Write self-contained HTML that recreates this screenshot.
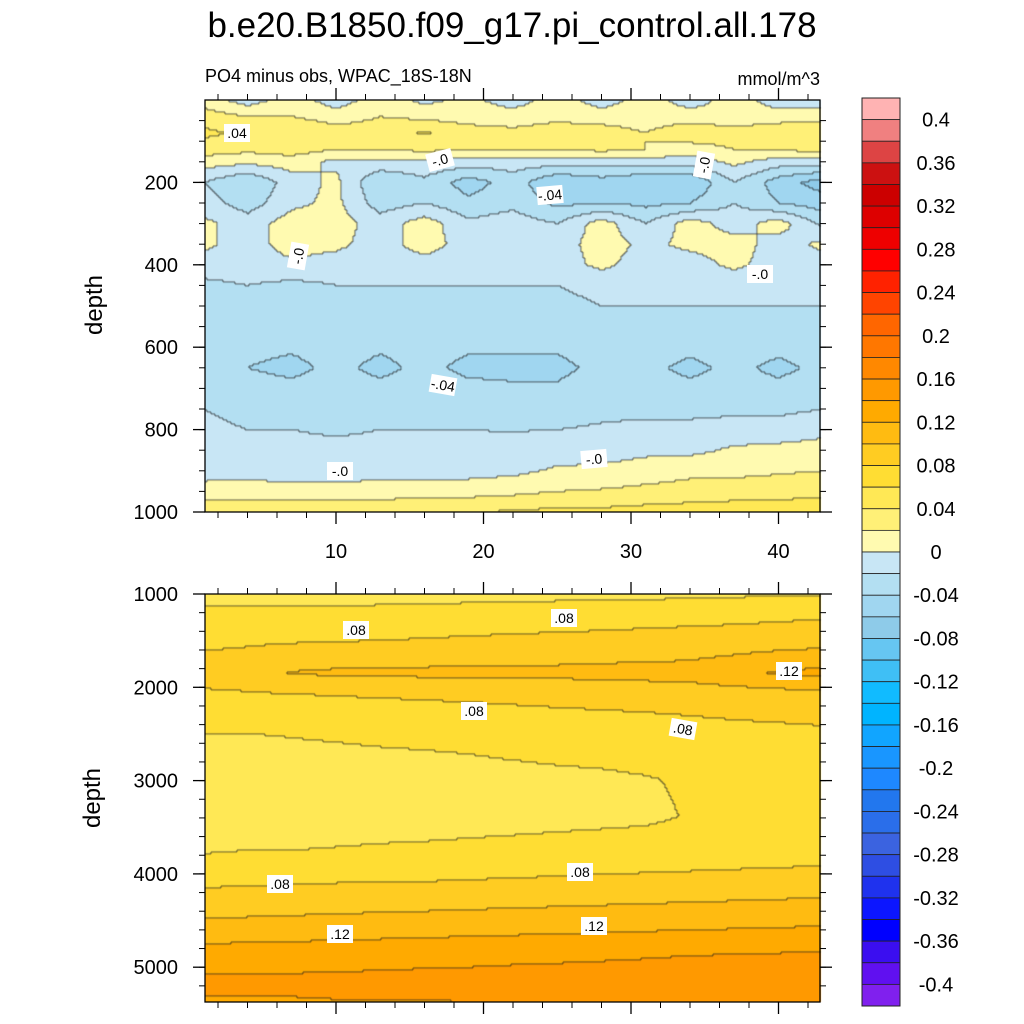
<!DOCTYPE html>
<html><head><meta charset="utf-8">
<style>
body{margin:0;background:#fff;width:1024px;height:1024px;position:relative;overflow:hidden;font-family:"Liberation Sans",sans-serif;}
canvas,svg{position:absolute;left:0;top:0;}
</style></head>
<body>
<canvas id="cv" width="1024" height="1024"></canvas>
<svg id="sv" width="1024" height="1024"></svg>
<script>
// ---- data ----
const levelColors = ["#ffb3b3","#f08080","#dd4444","#cc1111","#cc0000","#dd0000","#ee0000","#ff0000","#ff2200","#ff4400","#ff6600","#ff7700","#ff8800","#ff9900","#ffaa00","#ffbb11","#ffcc22","#ffdd33","#ffe855","#fff077","#fffab0",
"#c8e6f5","#b3dff2","#a0d6f0","#8ecbe9","#66c6f2","#3fbff5","#11bbff","#00b4ff","#11a5ff","#1996ff","#1e88ff","#2277ee","#2a6eea","#3b63e0","#2e4ee3","#1f32ee","#0c16ff","#0000ff","#3b0ef0","#6010f0","#8020ee"];
const cbLabels = ["0.4","0.36","0.32","0.28","0.24","0.2","0.16","0.12","0.08","0.04","0","-0.04","-0.08","-0.12","-0.16","-0.2","-0.24","-0.28","-0.32","-0.36","-0.4"];
const xCols = [1,4,7,10,13,16,19,22,25,28,31,34,37,40,43];
const xTicks = [10,20,30,40];
const topDepths = [0,40,80,120,150,200,250,300,350,400,450,550,650,750,850,900,950,1000];
const topVals = [
[0.01,-0.01,0.01,-0.01,0.01,-0.005,0.005,-0.01,0.01,-0.01,0.01,-0.01,0.01,-0.01,-0.01],
[0.03,0.02,0.02,0.01,0.02,0.015,0.01,0.01,0.015,0.01,0.01,0.01,0.005,0.01,0.01],
[0.045,0.035,0.04,0.03,0.03,0.042,0.03,0.025,0.03,0.03,0.02,0.035,0.03,0.035,0.04],
[0.03,0.025,0.03,0.02,0.02,0.025,0.02,0.02,0.02,0.025,0.02,0.01,0.02,0.02,0.03],
[0.01,0.005,0.01,-0.005,-0.005,-0.005,-0.01,-0.01,-0.01,-0.01,-0.01,-0.01,0.005,-0.01,-0.01],
[-0.02,-0.04,-0.01,0.005,-0.04,-0.025,-0.05,-0.03,-0.06,-0.05,-0.06,-0.06,-0.02,-0.05,-0.07],
[-0.01,-0.03,-0.005,0.005,-0.03,-0.02,-0.035,-0.025,-0.045,-0.04,-0.045,-0.04,-0.02,-0.04,-0.05],
[0.005,-0.01,0.01,0.01,-0.01,0.01,-0.015,-0.01,-0.02,0.01,-0.02,0.01,-0.01,0.01,-0.025],
[0.005,-0.01,0.01,0.005,-0.01,0.01,-0.01,-0.01,-0.01,0.01,-0.005,0.005,0.01,-0.01,0.005],
[-0.01,-0.01,-0.005,-0.01,-0.01,-0.01,-0.01,-0.01,-0.01,0.005,-0.01,-0.01,0.005,-0.01,-0.01],
[-0.025,-0.02,-0.025,-0.02,-0.02,-0.02,-0.02,-0.02,-0.02,-0.015,-0.015,-0.015,-0.015,-0.015,-0.015],
[-0.03,-0.03,-0.03,-0.03,-0.03,-0.03,-0.03,-0.03,-0.03,-0.025,-0.025,-0.025,-0.025,-0.025,-0.025],
[-0.035,-0.04,-0.045,-0.035,-0.045,-0.035,-0.045,-0.045,-0.045,-0.035,-0.035,-0.045,-0.035,-0.045,-0.035],
[-0.02,-0.025,-0.025,-0.03,-0.025,-0.025,-0.025,-0.03,-0.03,-0.025,-0.025,-0.025,-0.025,-0.025,-0.02],
[-0.012,-0.015,-0.015,-0.015,-0.015,-0.015,-0.015,-0.012,-0.01,-0.01,-0.005,-0.005,0.003,0.005,0.008],
[-0.008,-0.008,-0.01,-0.01,-0.008,-0.008,-0.008,-0.005,0.003,0.005,0.01,0.015,0.015,0.018,0.02],
[0.008,0.01,0.008,0.008,0.01,0.012,0.012,0.015,0.02,0.022,0.025,0.028,0.03,0.03,0.032],
[0.035,0.035,0.035,0.035,0.035,0.038,0.04,0.042,0.045,0.045,0.048,0.05,0.052,0.055,0.058]];
const botDepths = [1000,1200,1500,1850,2100,2500,3000,3400,3800,4100,4500,4900,5200,5400];
const botVals = [
[0.05,0.05,0.05,0.05,0.05,0.05,0.052,0.052,0.054,0.055,0.055,0.056,0.057,0.058,0.058],
[0.065,0.065,0.066,0.066,0.067,0.068,0.069,0.07,0.07,0.071,0.072,0.073,0.074,0.075,0.076],
[0.076,0.077,0.078,0.079,0.08,0.081,0.082,0.083,0.084,0.085,0.086,0.087,0.088,0.09,0.092],
[0.088,0.092,0.101,0.103,0.104,0.104,0.105,0.105,0.105,0.106,0.107,0.108,0.115,0.122,0.125],
[0.076,0.077,0.078,0.08,0.081,0.082,0.083,0.084,0.085,0.086,0.087,0.088,0.089,0.09,0.092],
[0.06,0.06,0.061,0.062,0.063,0.064,0.065,0.067,0.069,0.07,0.071,0.073,0.075,0.076,0.077],
[0.05,0.05,0.051,0.052,0.053,0.053,0.054,0.055,0.056,0.057,0.059,0.062,0.065,0.066,0.067],
[0.05,0.05,0.05,0.051,0.052,0.052,0.053,0.054,0.055,0.056,0.057,0.061,0.064,0.066,0.068],
[0.06,0.061,0.061,0.062,0.063,0.064,0.065,0.066,0.067,0.068,0.069,0.07,0.071,0.072,0.073],
[0.076,0.077,0.078,0.079,0.08,0.08,0.081,0.082,0.083,0.084,0.085,0.086,0.087,0.088,0.089],
[0.1,0.101,0.102,0.103,0.104,0.105,0.106,0.107,0.108,0.109,0.11,0.111,0.112,0.113,0.114],
[0.13,0.13,0.131,0.132,0.133,0.134,0.135,0.136,0.137,0.138,0.139,0.14,0.141,0.142,0.143],
[0.145,0.145,0.145,0.146,0.146,0.147,0.147,0.148,0.148,0.148,0.148,0.148,0.148,0.149,0.149],
[0.138,0.138,0.138,0.139,0.139,0.139,0.14,0.14,0.14,0.141,0.141,0.141,0.142,0.142,0.143]];

// ---- layout ----
const PL=205, PR=820;
const xPix = x => 188.5 + 14.75*x;
const topY = d => 100 + d*0.412;
const botY = d => 594 + (d-1000)*0.0933;
const TOP={y0:100,y1:512,yf:topY,depths:topDepths,vals:topVals,dmin:0,dmax:1000};
const BOT={y0:594,y1:1002,yf:botY,depths:botDepths,vals:botVals,dmin:1000,dmax:5400};
const levelIndex = v => { if(v>0.4) return 0; if(v<-0.4) return 41; return Math.min(41,Math.max(0,21-Math.ceil(v/0.02 - 1e-9))); };

function interp(P,x,d){
  let i=0; while(i<xCols.length-2 && x>xCols[i+1]) i++;
  let tx=(x-xCols[i])/(xCols[i+1]-xCols[i]); tx=Math.max(0,Math.min(1,tx));
  let j=0; while(j<P.depths.length-2 && d>P.depths[j+1]) j++;
  let ty=(d-P.depths[j])/(P.depths[j+1]-P.depths[j]); ty=Math.max(0,Math.min(1,ty));
  const a=P.vals[j][i],b=P.vals[j][i+1],c=P.vals[j+1][i],e=P.vals[j+1][i+1];
  return (a*(1-tx)+b*tx)*(1-ty)+(c*(1-tx)+e*tx)*ty;
}
const ctx=document.getElementById('cv').getContext('2d');
function drawField(P){
  const S=2, W=Math.ceil((PR-PL)/S), H=Math.ceil((P.y1-P.y0)/S);
  const lv=[];
  for(let r=0;r<H;r++){lv.push([]);
    const py=P.y0+r*S+S/2; const d=P.dmin+(py-P.y0)/(P.y1-P.y0)*(P.dmax-P.dmin);
    for(let c=0;c<W;c++){const px=PL+c*S+S/2; const x=(px-188.5)/14.75;
      const k=levelIndex(interp(P,x,d)); lv[r].push(k);
      ctx.fillStyle=levelColors[k]; ctx.fillRect(PL+c*S,P.y0+r*S,S,S);}}
  ctx.fillStyle="rgba(30,30,30,0.75)";
  for(let r=0;r<H;r++)for(let c=0;c<W;c++){
    if(c+1<W && lv[r][c]!==lv[r][c+1]) ctx.fillRect(PL+(c+1)*S-0.5,P.y0+r*S,0.9,S);
    if(r+1<H && lv[r][c]!==lv[r+1][c]) ctx.fillRect(PL+c*S,P.y0+(r+1)*S-0.5,S,0.9);}
}
drawField(TOP); drawField(BOT);

// ---- svg overlay ----
const NS="http://www.w3.org/2000/svg", sv=document.getElementById('sv');
function mk(tag,attrs,parent){const e=document.createElementNS(NS,tag);for(const k in attrs)e.setAttribute(k,attrs[k]);(parent||sv).appendChild(e);return e;}
function txt(s,x,y,size,anchor,name,extra){const t=mk('text',Object.assign({x:x,y:y,'font-size':size,'text-anchor':anchor||'middle','font-family':'Liberation Sans, sans-serif',fill:'#000'},extra||{}));t.textContent=s;


return t;}

txt("b.e20.B1850.f09_g17.pi_control.all.178",512,37,35,'middle','chart-title');
txt("PO4 minus obs, WPAC_18S-18N",205,82,18,'start','subtitle-left');
txt("mmol/m^3",820,85,18,'end','units-label');

function panel(P,ticksD,labelsD,name,xlabels){
  const g=mk('g',{});
  
  
  mk('rect',{x:PL,y:P.y0,width:PR-PL,height:P.y1-P.y0,fill:'none',stroke:'#000','stroke-width':1.3},g);
  ticksD.forEach(d=>{const y=P.yf(d); if(y<P.y0-0.5||y>P.y1+0.5)return;
    mk('line',{x1:PL-6,x2:PL,y1:y,y2:y,stroke:'#000','stroke-width':1},g);
    mk('line',{x1:PR,x2:PR+6,y1:y,y2:y,stroke:'#000','stroke-width':1},g);});
  labelsD.forEach(d=>{const y=P.yf(d);
    mk('line',{x1:PL-12,x2:PL,y1:y,y2:y,stroke:'#000','stroke-width':1.3},g);
    mk('line',{x1:PR,x2:PR+12,y1:y,y2:y,stroke:'#000','stroke-width':1.3},g);
    txt(String(d),178,y+7,20,'end','y-tick-label');});
  for(let x=2;x<=42;x+=2){const px=xPix(x);const maj=xTicks.includes(x);
    mk('line',{x1:px,x2:px,y1:P.y1,y2:P.y1+(maj?12:6),stroke:'#000','stroke-width':maj?1.3:1},g);
    mk('line',{x1:px,x2:px,y1:P.y0,y2:P.y0-(maj?12:6),stroke:'#000','stroke-width':maj?1.3:1},g);}
  if(xlabels) xTicks.forEach(x=>txt(String(x),xPix(x),558,20,'middle','x-tick-label'));
}
const topMinor=[];for(let d=50;d<=1000;d+=50)topMinor.push(d);
panel(TOP,topMinor,[200,400,600,800,1000],'top-panel',true);
const botMinor=[];for(let d=1000;d<=5400;d+=200)botMinor.push(d);
panel(BOT,botMinor,[1000,2000,3000,4000,5000],'bottom-panel',false);
txt("depth",102,305,24,'middle','y-axis-title-top',{transform:'rotate(-90 102 305)'});
txt("depth",100,798,24,'middle','y-axis-title-bottom',{transform:'rotate(-90 100 798)'});

// contour labels
const clabels=[[".04",237,133,0],["-.0",440,160,-15],["-.04",550,195,-5],["-.0",298,256,-80],["-.0",704,165,-80],["-.0",760,274,0],["-.04",443,385,10],["-.0",340,471,0],["-.0",594,459,-5],
[".08",356,630,0],[".08",564,618,0],[".12",789,671,0],[".08",474,711,0],[".08",683,729,10],[".08",280,884,0],[".08",580,872,0],[".12",340,934,0],[".12",594,926,0]];
clabels.forEach(l=>{const g=mk('g',{transform:`rotate(${l[3]} ${l[1]} ${l[2]})`});
  
  
  mk('rect',{x:l[1]-13,y:l[2]-9,width:26,height:18,fill:'#fff'},g);
  const t=txt(l[0],l[1],l[2]+5,14,'middle','contour-label-text');g.appendChild(t);});

// colorbar
const CB={x:862,y:98,w:38,h:908};
const bh=CB.h/levelColors.length;
levelColors.forEach((c,i)=>{const r=mk('rect',{x:CB.x,y:CB.y+i*bh,width:CB.w,height:bh,fill:c,stroke:'#222','stroke-width':0.8});
  
  });
mk('rect',{x:CB.x,y:CB.y,width:CB.w,height:CB.h,fill:'none',stroke:'#222','stroke-width':1});
cbLabels.forEach((s,i)=>txt(s,936,CB.y+(1+2*i)*bh+7,20,'middle','colorbar-label'));
</script>
</body></html>
